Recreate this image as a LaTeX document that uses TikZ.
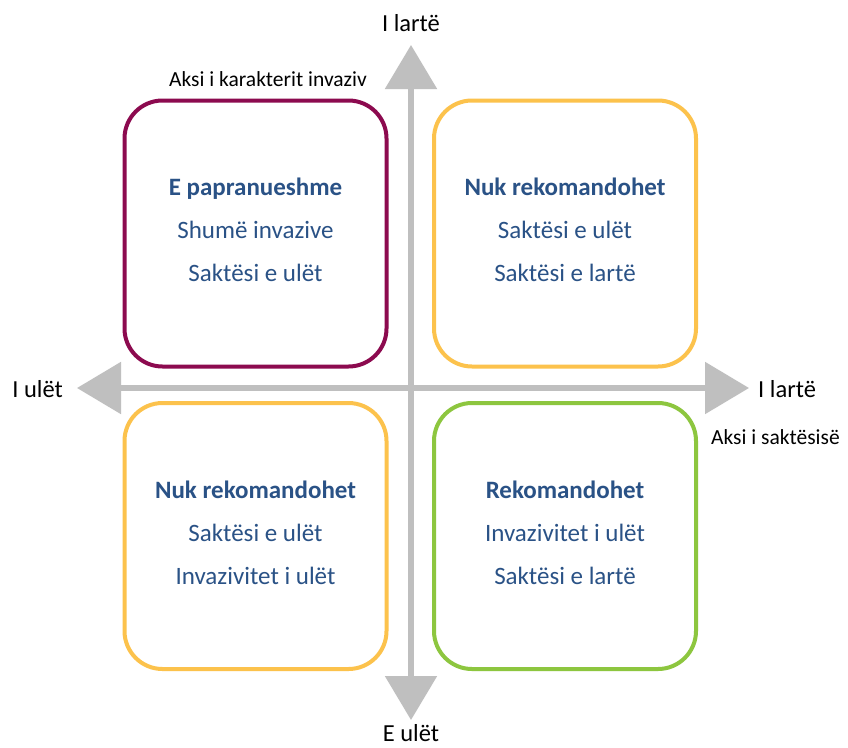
\documentclass[tikz,border=0pt]{standalone}
\usepackage{fontspec}
\setmainfont{Carlito}
\usetikzlibrary{arrows.meta}
\definecolor{axisgray}{HTML}{BFBFBF}
\definecolor{txtblue}{HTML}{2A5286}
\definecolor{cpurple}{HTML}{8C0A4F}
\definecolor{corange}{HTML}{FCC24C}
\definecolor{cgreen}{HTML}{8DC63F}
\begin{document}
\begin{tikzpicture}[x=1pt,y=-1pt,
  quad/.style={draw=#1,line width=4pt,rounded corners=38pt,minimum width=262pt,minimum height=266pt,inner sep=0pt},
  quadtext/.style={align=center,text=txtblue,font=\fontsize{25}{43}\selectfont,inner sep=0pt,yshift=3.5pt},
  axislbl/.style={font=\fontsize{24.5}{28}\selectfont,text=black,inner sep=0pt},
  axisname/.style={font=\fontsize{21.5}{25}\selectfont,text=black,inner sep=0pt},
  axisline/.style={draw=axisgray,line width=5.5pt,{Triangle[width=51pt,length=44pt]}-{Triangle[width=51pt,length=44pt]}}]
\useasboundingbox (0,0) rectangle (848,747);
\fill[white] (0,0) rectangle (848,747);
% axes
\coordinate (top) at (411,45);
\coordinate (bot) at (411,720);
\coordinate (lft) at (77,388);
\coordinate (rgt) at (749,388);
\draw[axisline] (lft) -- (rgt);
\draw[axisline] (bot) -- (top);
% axis labels
\node[axislbl] (ltop) at (411,23) {I lartë};
\node[axislbl] (lbot) at (411,733) {E ulët};
\node[axislbl,anchor=east] (llft) at (63,389) {I ulët};
\node[axislbl,anchor=west] (lrgt) at (758,389) {I lartë};
\node[axisname,anchor=west] (nsak) at (711,437) {Aksi i saktësisë};
\node[axisname] (ninv) at (268,79) {Aksi i karakterit invaziv};
% quadrants
\node[quad=cpurple] (q1) at (255.5,233.5) {};
\node[quad=corange] (q2) at (565,233.5) {};
\node[quad=corange] (q3) at (255.5,536) {};
\node[quad=cgreen] (q4) at (565,536) {};
\node[quadtext] (t1) at (q1.center) {\textbf{E papranueshme}\\Shumë invazive\\Saktësi e ulët};
\node[quadtext] (t2) at (q2.center) {\textbf{Nuk rekomandohet}\\Saktësi e ulët\\Saktësi e lartë};
\node[quadtext] (t3) at (q3.center) {\textbf{Nuk rekomandohet}\\Saktësi e ulët\\Invazivitet i ulët};
\node[quadtext] (t4) at (q4.center) {\textbf{Rekomandohet}\\Invazivitet i ulët\\Saktësi e lartë};
\end{tikzpicture}
\end{document}
